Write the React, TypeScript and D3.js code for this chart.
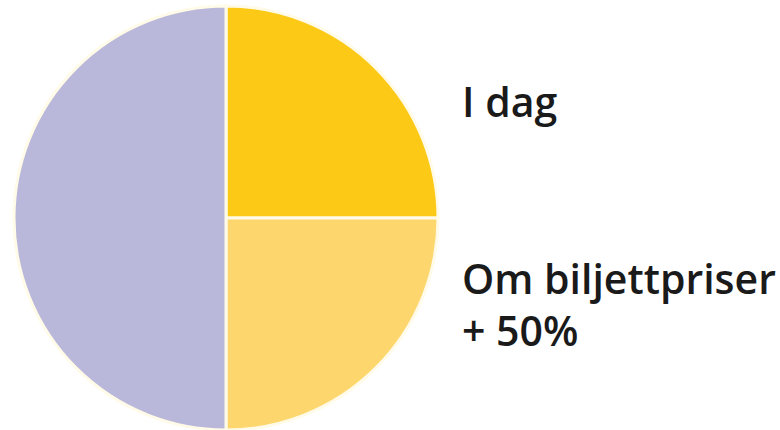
import React from "react";
import * as d3 from "d3";

const categories = ["I dag", "Om biljettpriser + 50%", "Övrig"];
const values = [25, 25, 50];
const colors = ["#fcc917", "#fdd76e", "#b9b7da"];
const labelLines = [["I dag"], ["Om biljettpriser", "+ 50%"]];

export default function App() {
  const W = 780, H = 430;
  const cx = 226, cy = 218, r = 212;
  const pie = d3.pie<number>().sort(null).value((d) => d)(values);
  const arc = d3.arc<d3.PieArcDatum<number>>().innerRadius(0).outerRadius(r);
  return (
    <svg width={W} height={H} style={{ position: "absolute", left: 0, top: 0, background: "#fff" }}>
      <g transform={`translate(${cx},${cy})`}>
        {pie.map((p, i) => (
          <path key={categories[i]} d={arc(p) || ""} fill={colors[i]} stroke="#fffbe8" strokeWidth={3} />
        ))}
      </g>
      <g fontFamily="'Open Sans', sans-serif" fontWeight={600} fontSize={41} fill="#1a1a1a">
        <text x={462} y={117}>{labelLines[0][0]}</text>
        <text x={462} y={294}>{labelLines[1][0]}</text>
        <text x={462} y={346}>{labelLines[1][1]}</text>
      </g>
    </svg>
  );
}
